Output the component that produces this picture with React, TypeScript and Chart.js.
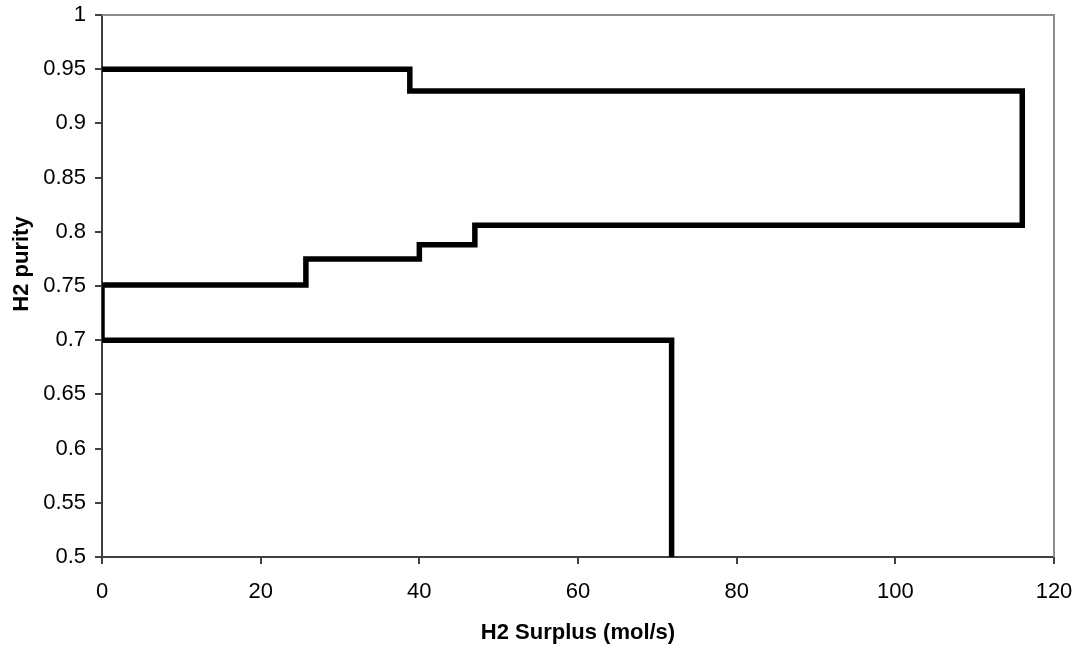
import React, { useEffect, useRef } from "react";
import { Chart, registerables } from "chart.js";

Chart.register(...registerables);

const surplus = [0, 38.8, 38.8, 116, 116, 113.5, 47, 47, 40, 40, 28.7, 25.7, 25.7, 18.3, 0, 0, 71.8, 71.8];
const purity = [0.95, 0.95, 0.93, 0.93, 0.806, 0.806, 0.806, 0.788, 0.788, 0.775, 0.775, 0.775, 0.751, 0.751, 0.751, 0.7, 0.7, 0.5];
const xTitle = "H2 Surplus (mol/s)";
const yTitle = "H2 purity";

const FONT = "Arial, 'Liberation Sans', sans-serif";

const framePlugin = {
  id: "frame",
  afterDraw(chart: any) {
    const { ctx, chartArea } = chart;
    const { left, right, top, bottom } = chartArea;
    ctx.save();
    ctx.strokeStyle = "#8c8c8c";
    ctx.lineWidth = 2;
    ctx.beginPath();
    ctx.moveTo(left, top);
    ctx.lineTo(right, top);
    ctx.lineTo(right, bottom);
    ctx.stroke();
    // y title
    ctx.fillStyle = "#000";
    ctx.font = `bold 22px ${FONT}`;
    ctx.textAlign = "center";
    ctx.textBaseline = "middle";
    ctx.translate(22, 264);
    ctx.rotate(-Math.PI / 2);
    ctx.fillText(yTitle, 0, 0);
    ctx.restore();
  },
};

const fmt = (v: any) => String(Number(Number(v).toFixed(2)));

export default function App() {
  const ref = useRef<HTMLCanvasElement>(null);
  useEffect(() => {
    document.body.style.margin = "0";
    const data = surplus.map((x, i) => ({ x, y: purity[i] }));
    const chart = new Chart(ref.current!, {
      type: "scatter",
      data: {
        datasets: [
          {
            data,
            showLine: true,
            borderColor: "#000",
            borderWidth: 5.5,
            pointRadius: 0,
            borderJoinStyle: "miter",
            borderCapStyle: "butt",
            fill: false,
          } as any,
        ],
      },
      options: {
        animation: false,
        responsive: false,
        maintainAspectRatio: false,
        layout: { padding: { left: 0, top: 15, right: 25, bottom: 0 } },
        plugins: { legend: { display: false }, tooltip: { enabled: false } },
        scales: {
          x: {
            type: "linear",
            min: 0,
            max: 120,
            ticks: { stepSize: 20, color: "#000", font: { family: FONT, size: 22 }, padding: 15, callback: fmt },
            grid: { drawOnChartArea: false, tickLength: 7, color: "#404040", lineWidth: 2 },
            border: { color: "#404040", width: 2 },
            title: { display: true, text: xTitle, color: "#000", font: { family: FONT, size: 22, weight: "bold" }, padding: { top: 0, bottom: 3 } },
            afterFit(scale: any) {
              scale.height = 92;
              scale.paddingLeft = 0;
              scale.paddingRight = 0;
            },
          },
          y: {
            type: "linear",
            min: 0.5,
            max: 1,
            ticks: { stepSize: 0.05, color: "#000", font: { family: FONT, size: 22 }, padding: 9, callback: fmt },
            grid: { drawOnChartArea: false, tickLength: 7, color: "#404040", lineWidth: 2 },
            border: { color: "#404040", width: 2 },
            afterFit(scale: any) {
              scale.width = 102;
              scale.paddingTop = 0;
              scale.paddingBottom = 0;
            },
          },
        },
      },
      plugins: [framePlugin],
    });
    return () => chart.destroy();
  }, []);
  return <canvas ref={ref} width={1079} height={649} style={{ display: "block" }} />;
}
